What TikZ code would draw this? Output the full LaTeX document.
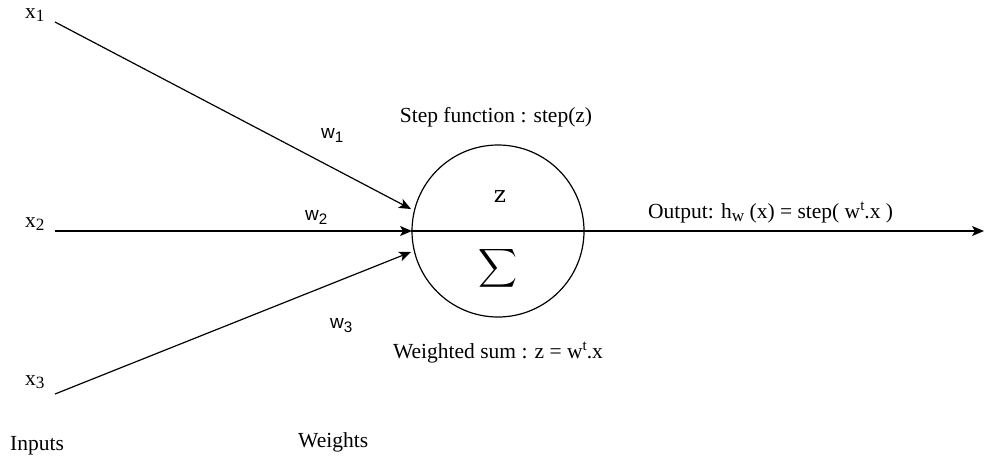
\documentclass[tikz,border=0pt]{standalone}
\usepackage{fontspec}
\setmainfont{Liberation Serif}
\newfontfamily\wsans{Liberation Sans}
\newfontfamily\zfont{DejaVu Serif}
\usetikzlibrary{arrows.meta}
\newcommand\lsub[1]{\raisebox{-0.4ex}{\scalebox{0.8}{#1}}}
\newcommand\lsup[1]{\raisebox{0.75ex}{\scalebox{0.7}{#1}}}
\begin{document}
\begin{tikzpicture}[x=1pt,y=-1pt,
  lbl/.style={inner sep=0pt,anchor=base west,font=\fontsize{21.5}{24}\selectfont},
  wlbl/.style={inner sep=0pt,anchor=base west,font=\wsans\fontsize{19}{21}\selectfont},
  conn/.style={line width=1.2pt,-{Stealth[length=12pt,width=10pt,inset=3pt]}},
  plain/.style={line width=1.2pt}]
\useasboundingbox (0,0) rectangle (984,459);
\node[circle,draw,line width=1.2pt,minimum size=172pt,inner sep=0pt] (n) at (498,231) {};
\coordinate (s1) at (55,22);
\coordinate (s2) at (55,231);
\coordinate (s3) at (55,394);
\coordinate (e1) at (411,209);
\coordinate (e2) at (412,231);
\coordinate (e3) at (411,252);
\coordinate (out) at (984,231);
\draw[conn] (s1) -- (e1);
\draw[conn] (s2) -- (e2);
\draw[conn] (s3) -- (e3);
\draw[plain] (n.west) -- (n.east);
\draw[conn] (n.east) -- (out);
\node[lbl] (x1) at (25,18) {x\lsub{1}};
\node[lbl] (x2) at (25,227) {x\lsub{2}};
\node[lbl] (x3) at (25,385) {x\lsub{3}};
\node[lbl] (inputs) at (10,450) {Inputs};
\node[lbl] (weights) at (298,447) {Weights};
\node[wlbl] (w1) at (321,138) {w\lsub{1}};
\node[wlbl] (w2) at (305,220) {w\lsub{2}};
\node[wlbl] (w3) at (330,328) {w\lsub{3}};
\node[lbl,anchor=base] (stepf) at (496,122) {Step function : step(z)};
\node[lbl,anchor=base] (wsum) at (498,358) {Weighted sum : z = w\lsup{t}.x};
\node[lbl] (output) at (648,218) {Output: h\lsub{w} (x) = step( w\lsup{t}.x )};
\node[inner sep=0pt,anchor=base,font=\zfont\fontsize{23}{25}\selectfont] (z) at (500,202) {z};
\node[inner sep=0pt] (sig) at (498,268) {\scalebox{2.7}{$\displaystyle\sum$}};
\end{tikzpicture}
\end{document}
